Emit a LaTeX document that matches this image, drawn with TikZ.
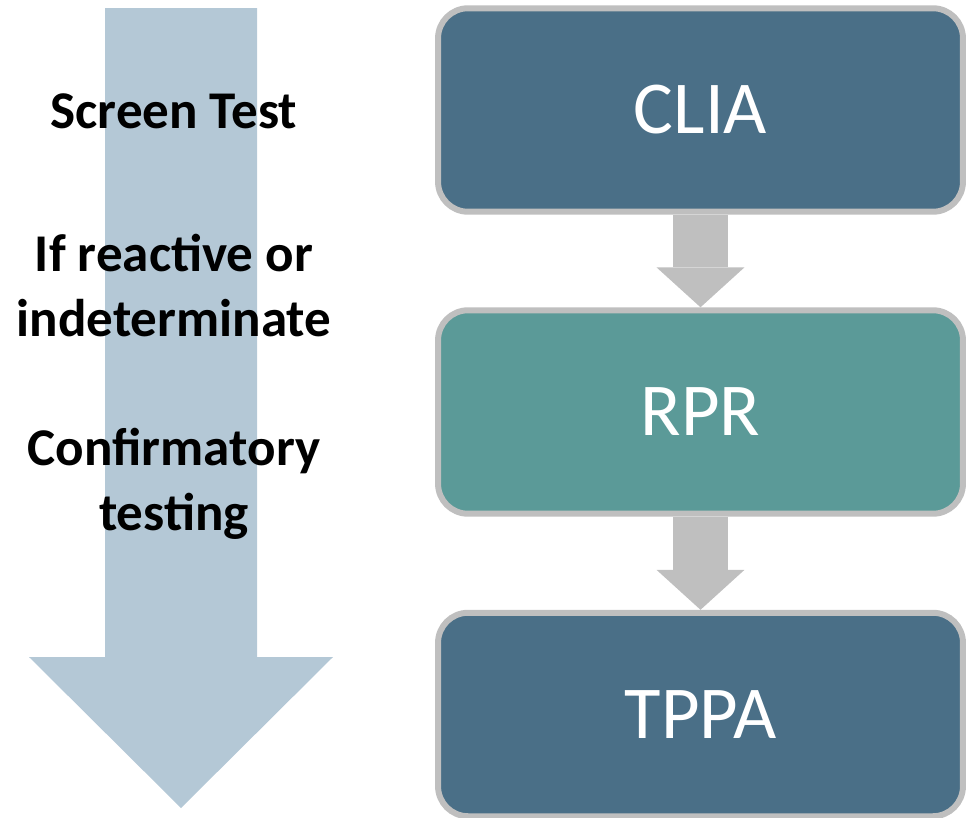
\documentclass[tikz,border=0pt]{standalone}
\usepackage{fontspec}
\setmainfont{Carlito}
\usetikzlibrary{arrows.meta}
\definecolor{slate}{HTML}{4A6F87}
\definecolor{seagreen}{HTML}{5B9A98}
\definecolor{rim}{HTML}{BFBFBF}
\definecolor{pipe}{HTML}{B4C8D6}

\begin{document}
\begin{tikzpicture}[x=0.02cm,y=-0.02cm,
    stage/.style={draw=rim,line width=3.4pt,rounded corners=0.6cm,minimum
    width=10.5cm,minimum height=4.07cm,text=white,
    font=\fontsize{42.5}{50}\selectfont},
    note/.style={align=center,anchor=base,
    font=\bfseries\fontsize{30.2}{36.6}\selectfont},
    link/.style={rim,line width=31pt,
    -{Triangle[width=50pt,length=22.7pt,line width=0pt]}}]
    \useasboundingbox (0,0) rectangle (967,818);
    \fill[pipe] (105,8) -- (257,8) -- (257,657) -- (333,657) -- (181,808)
    -- (29,657) -- (105,657) -- cycle;
    \node[note] (screen) at (174,128) {Screen Test};
    \node[note] (reactive) at (174,336) {If reactive or\\indeterminate};
    \node[note] (confirm) at (174,530) {Confirmatory\\testing};
    \node[stage,fill=slate] (clia) at (700.5,110) {CLIA};
    \node[stage,fill=seagreen] (rpr) at (700.5,412) {RPR};
    \node[stage,fill=slate] (tppa) at (700.5,714.5) {TPPA};
    \draw[link] (clia) -- (rpr); \draw[link] (rpr) -- (tppa);
  \end{tikzpicture}
\end{document}
